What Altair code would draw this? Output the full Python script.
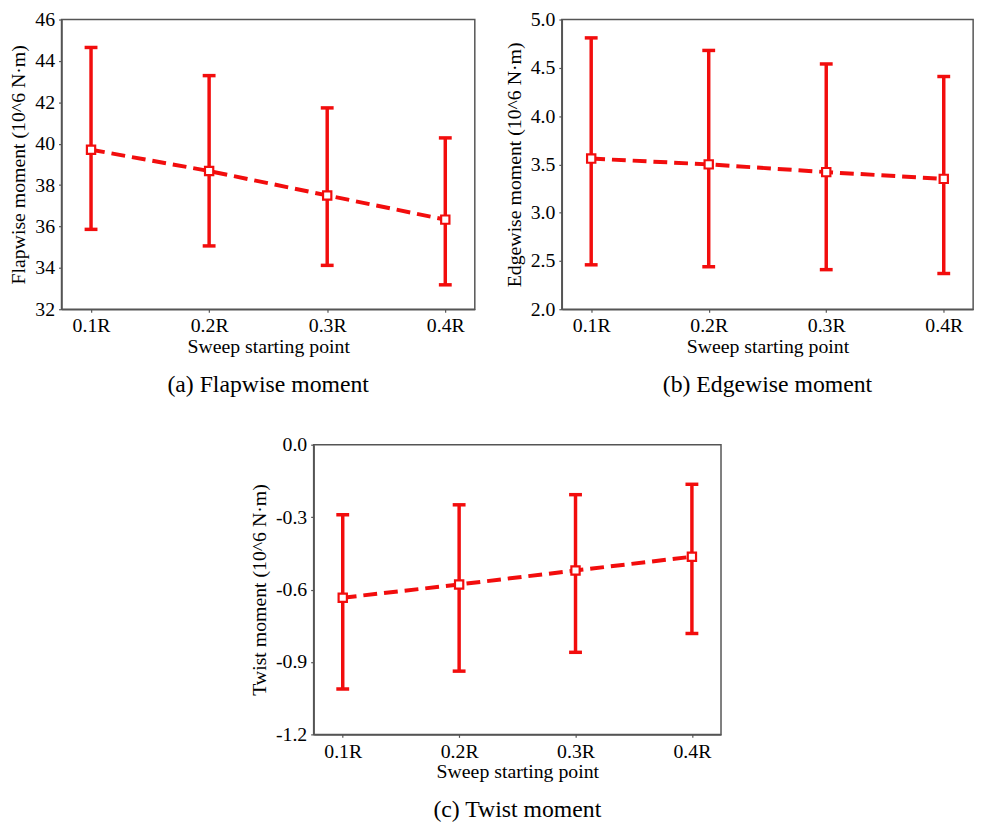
import altair as alt
import pandas as pd

categories = ["0.1R", "0.2R", "0.3R", "0.4R"]

flap_mean = [39.71, 38.68, 37.50, 36.33]
flap_upper = [44.65, 43.29, 41.73, 40.28]
flap_lower = [35.86, 35.06, 34.12, 33.18]

edge_mean = [3.56, 3.50, 3.42, 3.35]
edge_upper = [4.81, 4.68, 4.54, 4.41]
edge_lower = [2.46, 2.44, 2.41, 2.37]

twist_mean = [-0.634, -0.579, -0.521, -0.464]
twist_upper = [-0.290, -0.249, -0.207, -0.164]
twist_lower = [-1.012, -0.938, -0.860, -0.782]

RED = "#f20d0d"
FONT = "Liberation Serif"


def panel(mean, upper, lower, domain, ticks, ytitle, caption, width, height, fmt):
    df = pd.DataFrame({"cat": categories, "mean": mean, "upper": upper, "lower": lower})
    x = alt.X("cat:N", sort=categories, title="Sweep starting point",
              scale=alt.Scale(type="point", padding=0.25),
              axis=alt.Axis(labelAngle=0))
    yscale = alt.Scale(domain=domain, nice=False, zero=False)
    if fmt == "int":
        expr = "format(datum.value, 'd')"
    else:
        expr = "datum.value < 0 ? '-' + format(-datum.value, '.1f') : format(datum.value, '.1f')"
    yaxis = alt.Axis(values=ticks, labelExpr=expr, title=ytitle)
    base = alt.Chart(df)
    rules = base.mark_rule(color=RED, strokeWidth=3.5, opacity=1).encode(
        x=x, y=alt.Y("lower:Q", scale=yscale, axis=yaxis), y2="upper:Q")
    cap_hi = base.mark_tick(color=RED, thickness=3.5, size=13, orient="horizontal",
                            opacity=1).encode(
        x=x, y=alt.Y("upper:Q", scale=yscale))
    cap_lo = base.mark_tick(color=RED, thickness=3.5, size=13, orient="horizontal",
                            opacity=1).encode(
        x=x, y=alt.Y("lower:Q", scale=yscale))
    line = base.mark_line(color=RED, strokeWidth=4, strokeDash=[14, 7]).encode(
        x=x, y=alt.Y("mean:Q", scale=yscale))
    pts = base.mark_point(shape="square", filled=True, fill="white", stroke=RED,
                          strokeWidth=2.2, size=70, opacity=1).encode(
        x=x, y=alt.Y("mean:Q", scale=yscale))
    return alt.layer(rules, cap_hi, cap_lo, line, pts).properties(
        width=width, height=height,
        title=alt.TitleParams(text=caption, orient="bottom", fontSize=24, font=FONT,
                              fontWeight="normal", offset=17, anchor="middle", color="black"))


pa = panel(flap_mean, flap_upper, flap_lower, [32, 46], [32, 34, 36, 38, 40, 42, 44, 46],
           "Flapwise moment (10^6 N·m)", "(a)  Flapwise moment", 418, 293, "int")
pb = panel(edge_mean, edge_upper, edge_lower, [2.0, 5.0], [2.0, 2.5, 3.0, 3.5, 4.0, 4.5, 5.0],
           "Edgewise moment (10^6 N·m)", "(b)  Edgewise moment", 416, 293, "f")
pc = panel(twist_mean, twist_upper, twist_lower, [-1.2, 0.0], [-1.2, -0.9, -0.6, -0.3, 0.0],
           "Twist moment (10^6 N·m)", "(c)  Twist moment", 412, 293, "f")

row1 = alt.hconcat(pa, pb, spacing=28)
chart = alt.vconcat(row1, pc, center=True, spacing=36).properties(
    padding={"top": -4, "left": 0, "right": 0, "bottom": 0}
).configure_view(
    stroke="#555555", strokeWidth=1.5
).configure_axis(
    grid=False, domainColor="#555555", domainWidth=1.5, tickColor="#555555",
    tickSize=3, tickWidth=1.2, labelFont=FONT, titleFont=FONT, labelFontSize=20,
    titleFontSize=20, labelColor="black", titleColor="black", titleFontWeight="normal",
    labelPadding=4, titlePadding=4
).configure_axisY(titlePadding=6).configure_axisX(titlePadding=1)

chart.save("out.html", embed_options={"renderer": "svg", "actions": False})
